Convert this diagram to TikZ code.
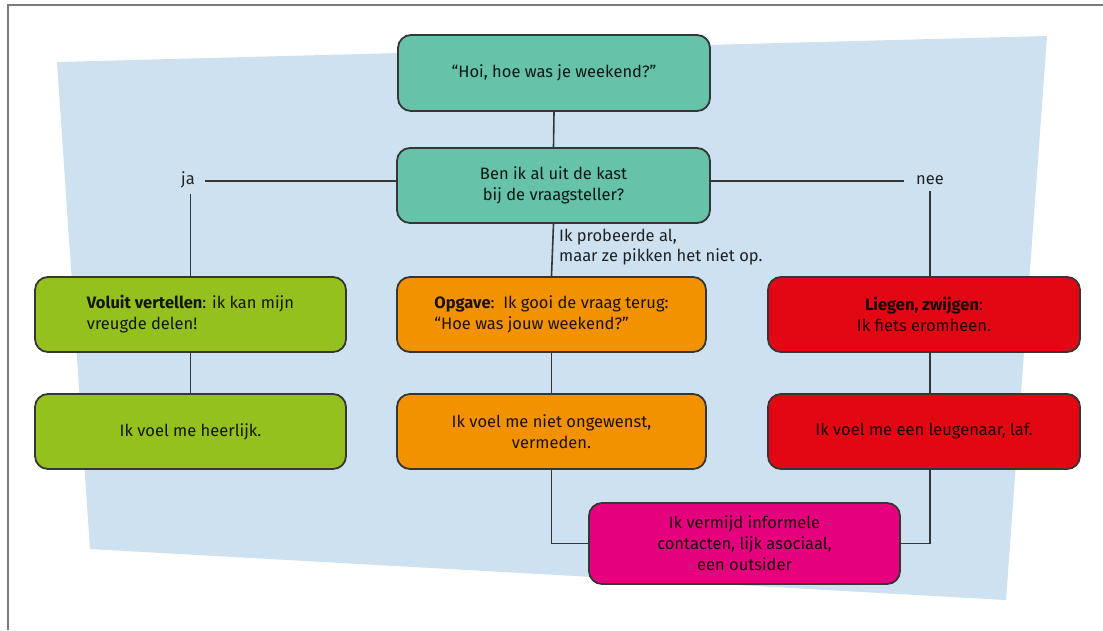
\documentclass[tikz,border=0pt]{standalone}
\usepackage{fontspec}
\setmainfont{Fira Sans}
\definecolor{bgblue}{HTML}{CDE1F0}
\definecolor{teal}{HTML}{66C2A8}
\definecolor{lgreen}{HTML}{95C11F}
\definecolor{orng}{HTML}{F39200}
\definecolor{rred}{HTML}{E30613}
\definecolor{pnk}{HTML}{E5007D}
\definecolor{edge}{HTML}{363636}
\definecolor{frame}{HTML}{7A7A7A}
\begin{document}
\begin{tikzpicture}[x=1pt,y=-1pt,
  box/.style={draw=edge,line width=1.8pt,rounded corners=13pt,minimum width=311pt,minimum height=75pt,
    inner sep=0pt,align=center,font=\fontsize{16.5}{21}\selectfont,text=black,text opacity=0.88},
  conn/.style={draw=edge,line width=1.6pt},
  lbl/.style={font=\fontsize{16.5}{20}\selectfont,text=black,text opacity=0.85,inner sep=0pt}]
\useasboundingbox (0,0) rectangle (1103,630);
% frame
\draw[frame,line width=1.5pt] (8,630) -- (8,5) -- (1103,5);
% background sheet
\fill[bgblue] (57,62) -- (1047,36) -- (1006,600) -- (90,549) -- cycle;
% nodes
\node[box,fill=teal,minimum width=312pt,minimum height=76pt] (top) at (554,73) {\textquotedblleft Hoi, hoe was je weekend?\textquotedblright};
\node[box,fill=teal,minimum width=313pt] (q) at (553.5,185.5) {Ben ik al uit de kast\\bij de vraagsteller?};
\node[lbl] (ja) at (188,180) {ja};
\node[lbl] (nee) at (930,180) {nee};
\node[lbl,anchor=north west,align=left] (lab) at (559,229) {Ik probeerde al,\\maar ze pikken het niet op.};
\node[box,fill=lgreen,align=left] (g1) at (190.5,314.5) {\textbf{Voluit vertellen}: ik kan mijn\\vreugde delen!};
\node[box,fill=orng,minimum width=309pt,align=left] (o1) at (551.5,314.5) {\textbf{Opgave}:\ \ Ik gooi de vraag terug:\\\textquotedblleft Hoe was jouw weekend?\textquotedblright};
\node[box,fill=rred,minimum width=312pt] (r1) at (924,314.5) {\textbf{Liegen, zwijgen}:\\Ik fiets eromheen.};
\node[box,fill=lgreen] (g2) at (190.5,431.5) {Ik voel me heerlijk.};
\node[box,fill=orng,minimum width=309pt] (o2) at (551.5,431.5) {Ik voel me niet ongewenst,\\vermeden.};
\node[box,fill=rred,minimum width=312pt] (r2) at (924,431.5) {Ik voel me een leugenaar, laf.};
\node[box,fill=pnk,minimum height=81pt] (p) at (744.5,543.5) {Ik vermijd informele\\contacten, lijk asociaal,\\een outsider};
\coordinate (hl) at (0,181);
% connectors
\draw[conn] (top.south) -- (q.north);
\draw[conn] ([xshift=10pt]ja.east |- hl) -- (q.west |- hl);
\draw[conn] ([yshift=-6pt]ja.south -| g1.north) -- (g1.north);
\draw[conn] (q.east |- hl) -- ([xshift=-12pt]nee.west |- hl);
\draw[conn] ([yshift=-6pt]nee.south) -- (nee.south |- r1.north);
\draw[conn] (q.south) -- (o1.north);
\draw[conn] (g1.south) -- (g2.north);
\draw[conn] (o1.south) -- (o2.north);
\draw[conn] (r1.south -| nee.south) -- (r2.north -| nee.south);
\draw[conn] (o2.south) |- (p.west);
\draw[conn] (r2.south -| nee.south) |- (p.east);
\end{tikzpicture}
\end{document}
